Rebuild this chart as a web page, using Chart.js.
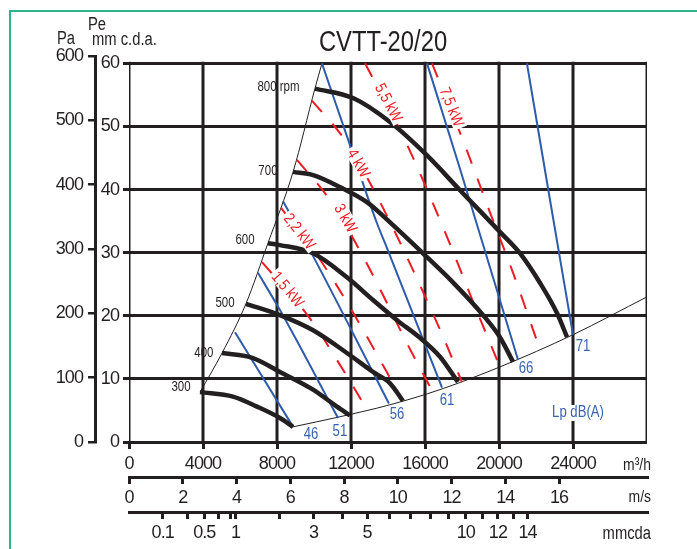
<!DOCTYPE html>
<html><head><meta charset="utf-8">
<script src="https://cdn.jsdelivr.net/npm/chart.js@4"></script>
<style>
html,body{margin:0;padding:0;background:#fff;}
#wrap{position:relative;width:697px;height:549px;overflow:hidden;background:#fff;}
#frame{position:absolute;left:9px;top:10px;right:-4px;bottom:-4px;border-top:2px solid #2cb587;border-left:2px solid #2cb587;}
canvas{position:absolute;left:0;top:0;}
</style></head><body>
<div id="wrap"><div id="frame"></div><canvas id="c" width="697" height="549"></canvas></div>
<script>
// ---------------- data ----------------
const flowTicks = [0, 4000, 8000, 12000, 16000, 20000, 24000];          // m3/h
const pressureMmTicks = [0, 10, 20, 30, 40, 50, 60];                     // mm c.d.a.
const pressurePaTicks = [0, 100, 200, 300, 400, 500, 600];               // Pa
const velocityTicks = [0, 2, 4, 6, 8, 10, 12, 14, 16];                   // m/s
const dynPressureTicks = [0.1, 0.3, 0.5, 0.7, 0.9, 1, 2, 3, 4, 5, 6, 7, 8, 9, 10, 11, 12, 13, 14]; // mmcda
const dynPressureLabelled = [0.1, 0.5, 1, 3, 5, 10, 12, 14];

// fan curves [m3/h, mm c.d.a.]
const rpm300 = [[3840,7.9],[5620,7.2],[6920,5.6],[8160,3.8],[8870,2.4]];
const rpm400 = [[5030,14.1],[6700,13.3],[8160,11.1],[9950,8.3],[11240,5.6],[11950,4.2]];
const rpm500 = [[6320,21.9],[8160,20.1],[9950,17.7],[11780,14.1],[13190,11.1],[14110,9.3],[14810,6.5]];
const rpm600 = [[7510,31.5],[8160,31.2],[9950,29.9],[11780,26.1],[13190,22.5],[14490,19.3],[15730,16.5],[16810,13.5],[17780,9.5]];
const rpm700 = [[8870,42.8],[9950,42.3],[11400,40.4],[12860,38.0],[14110,34.8],[15890,29.9],[17510,25.3],[19140,20.1],[20050,16.6],[20760,12.7]];
const rpm800 = [[10050,56.0],[12110,54.5],[14110,50.7],[16110,45.4],[17890,39.9],[20050,33.3],[21140,29.9],[22220,25.2],[23140,20.4],[23680,16.6]];

// working-area limits
const upperLimit = [[3840,7.9],[5030,14.1],[6320,21.9],[7510,31.5],[8870,42.8],[10050,56.0],[10430,60.0]];
const lowerLimit = [[8870,2.4],[11400,4.0],[14110,5.9],[16810,8.3],[20050,11.9],[24000,17.0],[28000,23.0]];

// sound level isolines Lp dB(A)
const db46 = [[5730,17.4],[8870,2.4]];
const db51 = [[6970,26.8],[8160,20.9],[11300,3.8]];
const db56 = [[8320,38.2],[9780,30.4],[14050,6.1]];
const db61 = [[10430,60.0],[11950,47.0],[13400,34.7],[13840,31.5],[16920,8.6]];
const db66 = [[16110,60.0],[17890,43.3],[21030,13.0]];
const db71 = [[21510,60.0],[22760,38.3],[24000,17.0]];

// absorbed power isolines kW
const kw15 = [[7190,28.5],[9780,19.6],[11240,13.0],[12920,4.9]];
const kw22 = [[8220,37.1],[10600,27.7],[13950,11.0],[14760,6.5]];
const kw30 = [[9080,44.7],[10870,38.3],[12760,28.8],[15350,13.8],[16430,7.9]];
const kw40 = [[9890,54.1],[11680,47.8],[13570,38.0],[16810,17.8],[18000,9.5]];
const kw55 = [[12760,60.0],[14920,47.8],[17190,32.5],[18600,22.2],[20050,11.9]];
const kw75 = [[16380,60.0],[18160,47.0],[19510,36.4],[20760,26.8],[22220,14.6]];

// annotation texts
const rpmLabels = [['800 rpm',8080,56.2],['700',7510,42.9],['600',6270,32.0],['500',5190,22.0],['400',4050,14.1],['300',2810,8.7]];
const dbLabels = [['46',9840,1.1],['51',11400,1.6],['56',14490,4.3],['61',17190,6.5],['66',21460,11.6],['71',24540,15.1]];
const kwLabels = [['1,5 kW',8600,24.2,50],['2,2 kW',9240,33.4,52],['3 kW',11730,35.5,60],['4 kW',12430,44.2,60],['5,5 kW',14050,53.8,62],['7,5 kW',17460,53.1,68]];

// ---------------- chart ----------------
const FONT = "'Liberation Sans',Arial,sans-serif";
const INK = '#231f20', BLUE = '#2f5bab', RED = '#ec1c24', BLUE_TXT = '#3763b2';
const NARROW = 0.82;
const PA_PER_MM = 9.81;
const FLOW_MAX = 28000;
const VEL_MAX = 19.27;      // m/s at FLOW_MAX
const DYN_K = 0.0637;       // mmcda = K * v^2

const pts = a => a.map(([x, y]) => ({x, y}));
const line = (data, color, width, order, dash) => ({
  data: pts(data), showLine: true, borderColor: color, borderWidth: width,
  borderDash: dash || [], pointRadius: 0, cubicInterpolationMode: 'monotone',
  order, fill: false, borderCapStyle: 'butt'
});

// vertical grid lines (stop at 60 mm)
const gridV = [];
flowTicks.concat([FLOW_MAX]).forEach(q => {
  gridV.push({x: q, y: 0}, {x: q, y: pressureMmTicks[pressureMmTicks.length - 1]}, {x: q, y: null});
});

const datasets = [
  ...[rpm300, rpm400, rpm500, rpm600, rpm700, rpm800].map(d => line(d, INK, 4.5, 1)),
  ...[db46, db51, db56, db61, db66, db71].map(d => line(d, BLUE, 2, 2)),
  ...[kw15, kw22, kw30, kw40, kw55, kw75].map(d => line(d, RED, 2, 3, [15, 16])),
  line(upperLimit, INK, 1, 4),
  line(lowerLimit, INK, 1, 4),
  {data: gridV, showLine: true, borderColor: INK, borderWidth: 3, pointRadius: 0, order: 5, spanGaps: false, borderCapStyle: 'square', tension: 0}
];

const tickFont = {family: FONT, size: 18};

function narrowText(ctx, t, x, y) {
  ctx.save();
  ctx.translate(x, y);
  ctx.scale(NARROW, 1);
  ctx.fillText(t, 0, 0);
  ctx.restore();
}

const textPlugin = {
  id: 'texts',
  beforeDraw(chart) { chart.ctx.letterSpacing = '-0.9px'; },
  afterDraw(chart) {
    const ctx = chart.ctx, x = chart.scales.x, y = chart.scales.y;
    ctx.letterSpacing = '0px';
    ctx.save();
    ctx.textBaseline = 'middle';
    ctx.fillStyle = INK;
    ctx.textAlign = 'center';
    ctx.font = `29px ${FONT}`;
    narrowText(ctx, 'CVTT-20/20', 383, 43);
    ctx.textAlign = 'left';
    ctx.font = `18px ${FONT}`;
    narrowText(ctx, 'Pa', 57, 39);
    narrowText(ctx, 'Pe', 88, 25);
    narrowText(ctx, 'mm c.d.a.', 92, 40);
    ctx.textAlign = 'right';
    ctx.font = `17px ${FONT}`;
    narrowText(ctx, 'm³/h', 651, 465);
    narrowText(ctx, 'm/s', 651, 497);
    ctx.font = `18px ${FONT}`;
    narrowText(ctx, 'mmcda', 651, 534);
    // rpm labels
    ctx.textAlign = 'center';
    ctx.font = `14px ${FONT}`;
    rpmLabels.forEach(([t, q, m]) => narrowText(ctx, t, x.getPixelForValue(q), y.getPixelForValue(m)));
    // dB labels
    ctx.fillStyle = BLUE_TXT;
    ctx.font = `16px ${FONT}`;
    dbLabels.forEach(([t, q, m]) => narrowText(ctx, t, x.getPixelForValue(q), y.getPixelForValue(m)));
    const lpx = x.getPixelForValue(24270), lpy = y.getPixelForValue(4.6);
    const lw = ctx.measureText('Lp dB(A)').width * NARROW;
    ctx.fillStyle = '#fff';
    ctx.fillRect(lpx - lw / 2 - 1, lpy - 8, lw + 2, 16);
    ctx.fillStyle = BLUE_TXT;
    narrowText(ctx, 'Lp dB(A)', lpx, lpy);
    // kW labels
    ctx.font = `16px ${FONT}`;
    kwLabels.forEach(([t, q, m, a]) => {
      ctx.save();
      ctx.translate(x.getPixelForValue(q), y.getPixelForValue(m));
      ctx.rotate(a * Math.PI / 180);
      ctx.scale(NARROW, 1);
      const w = ctx.measureText(t).width;
      ctx.fillStyle = '#fff';
      ctx.fillRect(-w / 2 - 3, -7, w + 6, 14);
      ctx.fillStyle = RED;
      ctx.fillText(t, 0, 1);
      ctx.restore();
    });
    ctx.restore();
  }
};

new Chart(document.getElementById('c'), {
  type: 'scatter',
  data: {datasets},
  options: {
    responsive: false, animation: false,
    layout: {padding: {left: 30, right: 50, top: 56, bottom: 0}},
    plugins: {legend: {display: false}, tooltip: {enabled: false}},
    scales: {
      x: {
        type: 'linear', position: 'bottom', weight: 1, min: 0, max: FLOW_MAX,
        afterBuildTicks: s => { s.ticks = flowTicks.map(v => ({value: v})); },
        afterFit: s => { s.height = 35; },
        grid: {drawOnChartArea: false, drawTicks: true, tickLength: 7, color: INK, lineWidth: 3},
        border: {display: false},
        ticks: {font: tickFont, color: INK, padding: 4, maxRotation: 0, autoSkip: false, callback: v => String(v)}
      },
      xVel: {
        type: 'linear', position: 'bottom', weight: 2, min: 0, max: VEL_MAX,
        afterBuildTicks: s => { s.ticks = velocityTicks.map(v => ({value: v})); },
        afterFit: s => { s.height = 35; },
        grid: {drawOnChartArea: false, drawTicks: true, tickLength: 7, color: INK, lineWidth: 3},
        border: {display: true, color: INK, width: 3},
        ticks: {font: tickFont, color: INK, padding: 3, maxRotation: 0, autoSkip: false, callback: v => String(v)}
      },
      xDyn: {
        type: 'linear', position: 'bottom', weight: 3, min: 0, max: VEL_MAX,
        afterBuildTicks: s => { s.ticks = dynPressureTicks.map(p => ({value: Math.sqrt(p / DYN_K)})); },
        afterFit: s => { s.height = 37; },
        grid: {drawOnChartArea: false, drawTicks: true, tickLength: 7, color: INK, lineWidth: 3},
        border: {display: true, color: INK, width: 3},
        ticks: {font: tickFont, color: INK, padding: 3, maxRotation: 0, autoSkip: false,
          callback: (v, i) => dynPressureLabelled.includes(dynPressureTicks[i]) ? String(dynPressureTicks[i]) : ''}
      },
      y: {
        type: 'linear', position: 'left', weight: 1, min: 0, max: 600 / PA_PER_MM,
        afterBuildTicks: s => { s.ticks = pressureMmTicks.map(v => ({value: v})); },
        afterFit: s => { s.width = 34; },
        grid: {drawOnChartArea: true, drawTicks: true, tickLength: 6, color: INK, lineWidth: 3},
        border: {display: false},
        ticks: {font: tickFont, color: INK, padding: 4, callback: v => String(v)}
      },
      yPa: {
        type: 'linear', position: 'left', weight: 2, min: 0, max: 600,
        afterBuildTicks: s => { s.ticks = pressurePaTicks.map(v => ({value: v})); },
        afterFit: s => { s.width = 65; },
        grid: {drawOnChartArea: false, drawTicks: true, tickLength: 7, color: INK, lineWidth: 2.5},
        border: {display: true, color: INK, width: 3},
        ticks: {font: tickFont, color: INK, padding: 5, callback: v => String(v)}
      }
    }
  },
  plugins: [textPlugin]
});
</script>
</body></html>
